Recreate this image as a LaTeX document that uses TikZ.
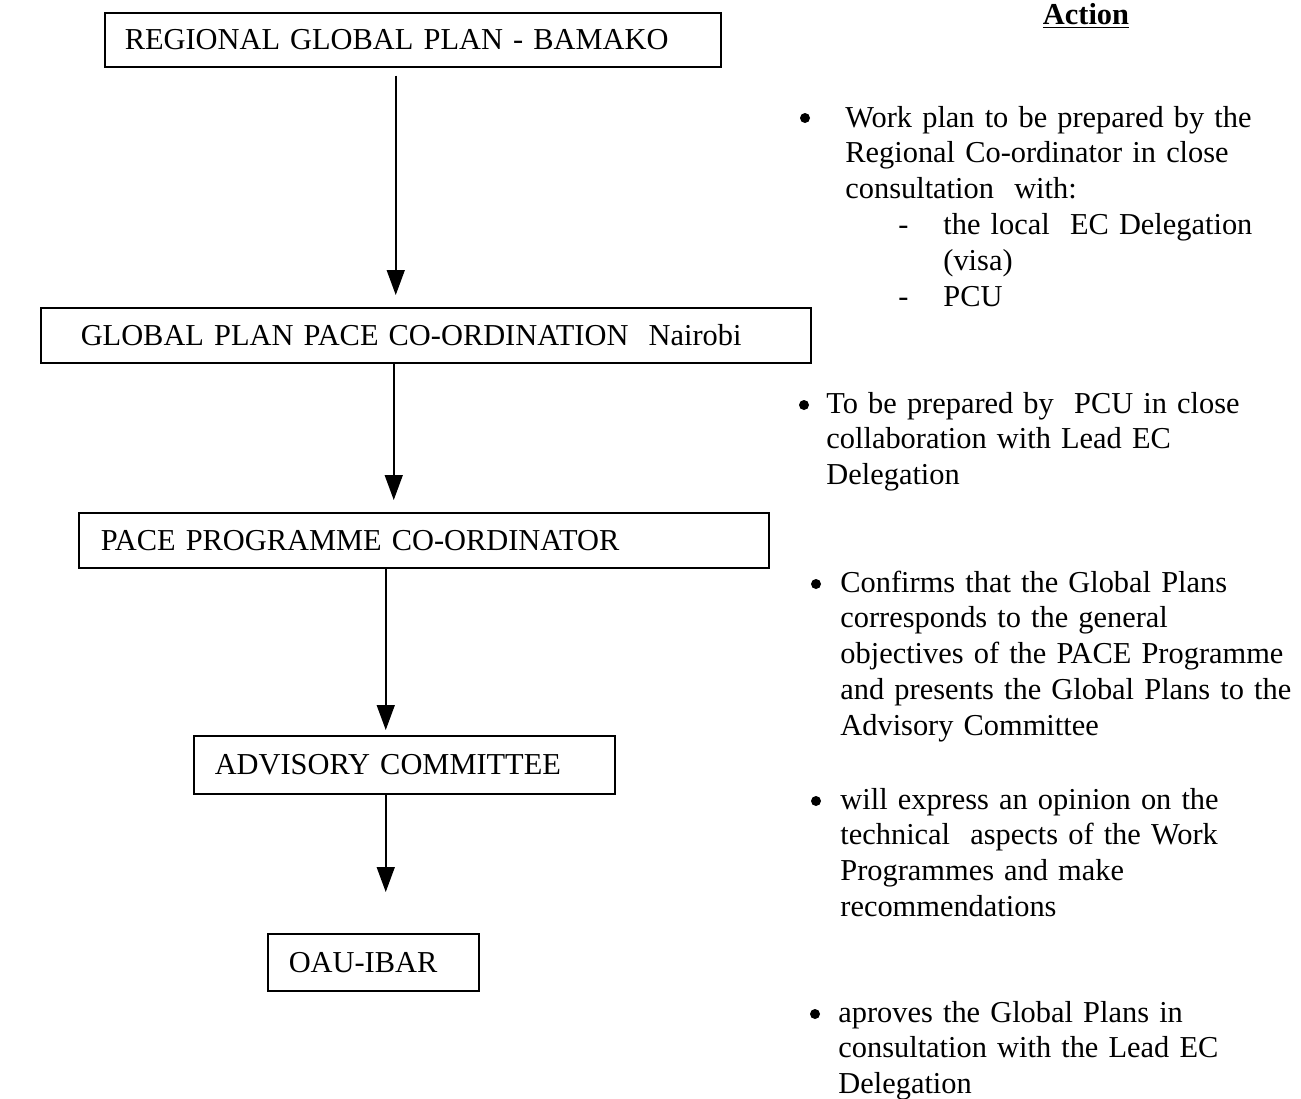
\documentclass[tikz,border=0pt]{standalone}
\usepackage{fontspec}
\setmainfont{Liberation Serif}
\usetikzlibrary{arrows.meta}
\tikzset{
  box/.style={draw, line width=0.75pt, anchor=north west, align=left, inner ysep=0pt},
  flow/.style={-{Triangle[length=12.5pt,width=9pt]}, line width=0.75pt},
  bul/.style={circle, fill, inner sep=0pt, minimum size=5pt},
  item/.style={anchor=base west, inner sep=0pt, text width=250pt, align=left}
}
\begin{document}
\begin{tikzpicture}[x=0.5pt,y=-0.5pt,font=\fontsize{15.2}{17.9}\selectfont]
  \useasboundingbox (0,0) rectangle (1301,1098);
  \node[box, text width=288pt, inner xsep=10pt, minimum height=27pt] (R) at (104,12) {REGIONAL GLOBAL PLAN - BAMAKO};
  \node[box, text width=345pt, inner xsep=20pt, minimum height=27.5pt] (G) at (40,307) {GLOBAL PLAN PACE CO-ORDINATION~ Nairobi};
  \node[box, text width=323pt, inner xsep=11pt, minimum height=27.5pt] (P) at (78,512) {PACE PROGRAMME CO-ORDINATOR};
  \node[box, text width=189.5pt, inner xsep=10.5pt, minimum height=29pt] (A) at (193,735) {ADVISORY COMMITTEE};
  \node[box, text width=84.5pt, inner xsep=10.5pt, minimum height=28.5pt] (O) at (267,933) {OAU-IBAR};

  \coordinate (r1) at ([xshift=-8.5pt]R.south);
  \coordinate (g1) at ([xshift=-16pt]G.south);
  \coordinate (p1) at ([xshift=-19pt]P.south);
  \coordinate (a1) at ([xshift=-9.25pt]A.south);
  \draw[flow, shorten <=4pt, shorten >=6pt] (r1) -- (r1 |- G.north);
  \draw[flow, shorten >=6pt] (g1) -- (g1 |- P.north);
  \draw[flow, shorten >=2.5pt] (p1) -- (p1 |- A.north);
  \draw[flow, shorten >=20.5pt] (a1) -- (a1 |- O.north);

  \node[anchor=base, inner sep=0pt, font=\fontsize{15.2}{17.9}\selectfont\bfseries] (act) at (1086,24) {\underline{Action}};

  \node[bul] (b1) at (805,118) {};
  \node[item] (t1) at (845,127) {Work plan to be prepared by the\\Regional Co-ordinator in close\\consultation~ with:\\\hspace*{26.5pt}\makebox[22.5pt][l]{-}the local~ EC Delegation\\\hspace*{49pt}(visa)\\\hspace*{26.5pt}\makebox[22.5pt][l]{-}PCU};
  \node[bul] (b2) at (804,405) {};
  \node[item] (t2) at (826,413) {To be prepared by~ PCU in close\\collaboration with Lead EC\\Delegation};
  \node[bul] (b3) at (816,584) {};
  \node[item] (t3) at (840,592) {Confirms that the Global Plans\\corresponds to the general\\objectives of the PACE Programme\\and presents the Global Plans to the\\Advisory Committee};
  \node[bul] (b4) at (816,801) {};
  \node[item] (t4) at (840,809) {will express an opinion on the\\technical~ aspects of the Work\\Programmes and make\\recommendations};
  \node[bul] (b5) at (815,1014) {};
  \node[item] (t5) at (838,1022) {aproves the Global Plans in\\consultation with the Lead EC\\Delegation};
\end{tikzpicture}
\end{document}
